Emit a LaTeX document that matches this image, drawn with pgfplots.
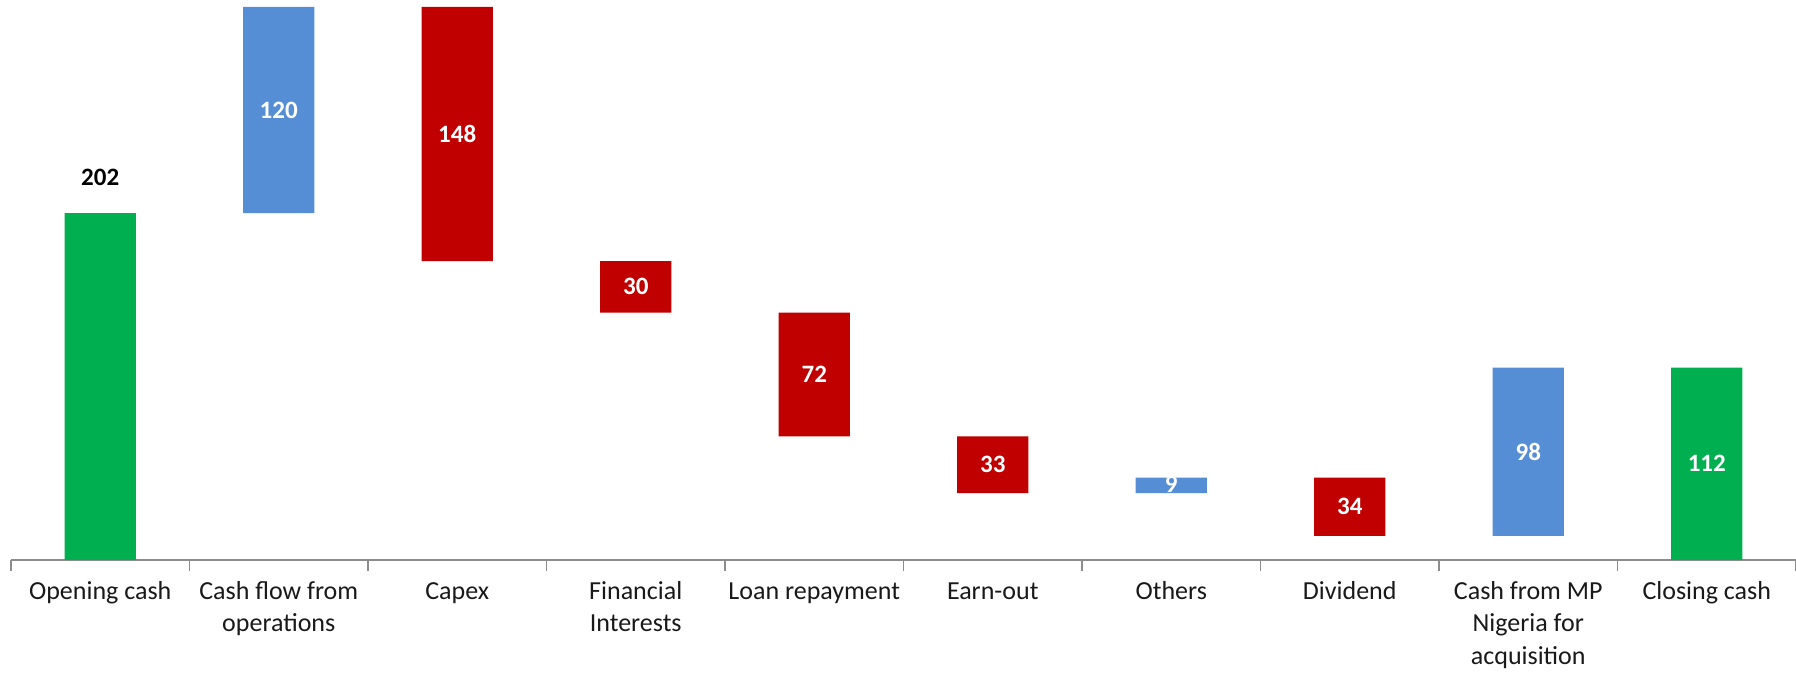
\documentclass[border=0pt]{standalone}
\usepackage{fontspec}
\setmainfont{Carlito}
\usepackage{pgfplots}
\usepackage{pgfplotstable}
\pgfplotsset{compat=1.18}
\definecolor{wfgreen}{HTML}{00B050}
\definecolor{wfblue}{HTML}{558ED5}
\definecolor{wfred}{HTML}{C00000}
\pgfplotstableread{
x base green blue red
0 0   202 0   0
1 202 0   120 0
2 174 0   0   148
3 144 0   0   30
4 72  0   0   72
5 39  0   0   33
6 39  0   9   0
7 14  0   0   34
8 14  0   98  0
9 0   112 0   0
}\wfdata
\pgfplotstableread{
x y label
1 262 120
2 248 148
3 159 30
4 108 72
5 55.5 33
6 44 9
7 31 34
8 63 98
9 56 112
}\whitelabels
\pgfplotstableread{
x y label
0 223 202
}\blacklabels
\begin{document}
\begin{tikzpicture}
\useasboundingbox (-5.5pt,-57.5pt) rectangle (892.5pt,280pt);
\pgfplotsset{wfbase/.style={scale only axis, width=892.5pt, height=280pt,
  xmin=-0.5, xmax=9.5, ymin=0, ymax=326, at={(0,0)}, anchor=south west}}
\begin{axis}[wfbase, ybar stacked, bar width=0.4,
  axis y line=none, axis x line=bottom, axis line style={-},
  x axis line style={draw=black!45, line width=1pt},
  xtick={0,...,9},
  xticklabels={Opening cash, Cash flow from\\operations, Capex, Financial\\Interests, Loan repayment, Earn-out, Others, Dividend, Cash from MP\\Nigeria for\\acquisition, Closing cash},
  typeset ticklabels with strut,
  major tick length=0pt,
  minor xtick={-0.5,0.5,...,9.5},
  minor tick length=5.5pt, tick align=outside,
  minor tick style={draw=black!45, line width=0.8pt},
  xticklabel style={align=center, font=\fontsize{13}{16.3}\selectfont, yshift=-4.6pt, text=black!90},
]
\addplot[fill=none, draw=none] table[x=x, y=base] {\wfdata};
\addplot[fill=wfgreen, draw=none] table[x=x, y=green] {\wfdata};
\addplot[fill=wfblue, draw=none] table[x=x, y=blue] {\wfdata};
\addplot[fill=wfred, draw=none] table[x=x, y=red] {\wfdata};
\end{axis}
\begin{axis}[wfbase, hide axis]
\addplot[draw=none, mark=none, nodes near coords, point meta=explicit symbolic,
  nodes near coords style={anchor=center, text=white, font=\bfseries\fontsize{12.5}{14}\selectfont}]
  table[x=x, y=y, meta=label] {\whitelabels};
\addplot[draw=none, mark=none, nodes near coords, point meta=explicit symbolic,
  nodes near coords style={anchor=center, text=black, font=\bfseries\fontsize{12.5}{14}\selectfont}]
  table[x=x, y=y, meta=label] {\blacklabels};
\end{axis}
\end{tikzpicture}
\end{document}
